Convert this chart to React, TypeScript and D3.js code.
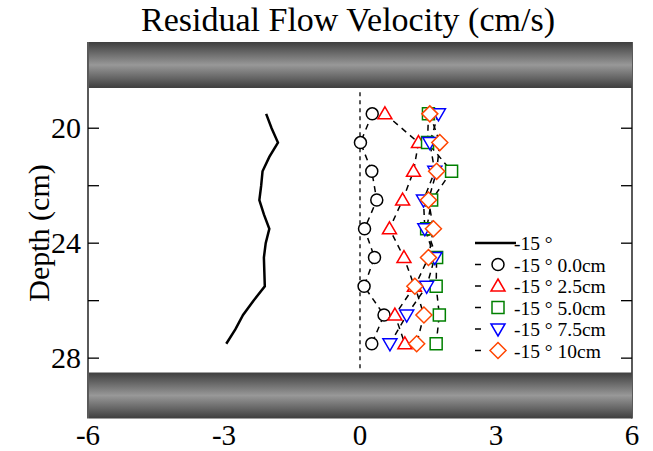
import React from "react";
import * as d3 from "d3";

// depth (cm) for the marker series
const depths = [19.5, 20.5, 21.5, 22.5, 23.5, 24.5, 25.5, 26.5, 27.5];

// solid -15° profile
const profileDepth = [19.5, 20.0, 20.5, 21.0, 21.5, 22.0, 22.5, 23.0, 23.5, 24.0, 24.5, 25.0, 25.5, 26.0, 26.5, 27.0, 27.5];
const profileVel = [-2.07, -1.95, -1.81, -2.0, -2.15, -2.18, -2.22, -2.12, -2.0, -2.08, -2.12, -2.11, -2.1, -2.35, -2.58, -2.75, -2.95];

const vel00 = [0.27, 0.01, 0.26, 0.37, 0.1, 0.32, 0.09, 0.53, 0.26];
const vel25 = [0.55, 1.29, 1.18, 0.94, 0.65, 0.97, 1.2, 0.77, 0.99];
const vel50 = [1.51, 1.49, 2.02, 1.58, 1.47, 1.69, 1.68, 1.75, 1.68];
const vel75 = [1.73, 1.54, 1.65, 1.4, 1.43, 1.65, 1.47, 1.03, 0.66];
const vel10 = [1.54, 1.76, 1.69, 1.51, 1.62, 1.51, 1.21, 1.41, 1.25];

const xTicks = [-6, -3, 0, 3, 6];
const yTicks = [20, 22, 24, 26, 28];
const yLabels = [20, 24, 28];

const series = [
  { name: "-15 ° 0.0cm", vals: vel00, shape: "circle", color: "#000000" },
  { name: "-15 ° 2.5cm", vals: vel25, shape: "triangle", color: "#ff0000" },
  { name: "-15 ° 5.0cm", vals: vel50, shape: "square", color: "#008000" },
  { name: "-15 ° 7.5cm", vals: vel75, shape: "invtriangle", color: "#0000ff" },
  { name: "-15 ° 10cm", vals: vel10, shape: "diamond", color: "#ff4500" },
];

const font = "'Liberation Serif', 'Times New Roman', serif";

function marker(shape: string, x: number, y: number) {
  switch (shape) {
    case "circle":
      return `M${x - 6},${y}a6,6 0 1,0 12,0a6,6 0 1,0 -12,0Z`;
    case "triangle":
      return `M${x},${y - 7}L${x + 7},${y + 5}L${x - 7},${y + 5}Z`;
    case "invtriangle":
      return `M${x},${y + 7}L${x + 7},${y - 5}L${x - 7},${y - 5}Z`;
    case "square":
      return `M${x - 6},${y - 6}h12v12h-12Z`;
    default:
      return `M${x},${y - 8}L${x + 8},${y}L${x},${y + 8}L${x - 8},${y}Z`;
  }
}

export default function App() {
  const W = 653;
  const H = 451;
  const x = d3.scaleLinear().domain([-6, 6]).range([88, 632]);
  const y = d3.scaleLinear().domain([17, 30.1]).range([42, 418.5]);

  const profile = d3
    .line<number>()
    .x((d) => x(d))
    .y((_, i) => y(profileDepth[i]))(profileVel);

  const legendY = (i: number) => 243 + i * 21.5;

  return (
    <svg width={W} height={H} style={{ position: "absolute", left: 0, top: 0 }}>
      <defs>
        <linearGradient id="bar" x1="0" y1="0" x2="0" y2="1">
          <stop offset="0%" stopColor="#3e3e3e" />
          <stop offset="50%" stopColor="#989898" />
          <stop offset="100%" stopColor="#3e3e3e" />
        </linearGradient>
      </defs>
      <rect width={W} height={H} fill="#fff" />
      <text x={348} y={31} textAnchor="middle" fontFamily={font} fontSize={34}>
        Residual Flow Velocity (cm/s)
      </text>

      {/* frame */}
      <line x1={x(-6)} x2={x(-6)} y1={y(17)} y2={y(30.1)} stroke="#000" strokeWidth={1.3} />
      <line x1={x(6)} x2={x(6)} y1={y(17)} y2={y(30.1)} stroke="#000" strokeWidth={1.3} />
      {yTicks.map((t) => (
        <g key={t}>
          <line x1={x(-6)} x2={x(-6) + 11} y1={y(t)} y2={y(t)} stroke="#000" strokeWidth={1.3} />
          <line x1={x(6)} x2={x(6) - 11} y1={y(t)} y2={y(t)} stroke="#000" strokeWidth={1.3} />
        </g>
      ))}
      {yLabels.map((t) => (
        <text key={t} x={81} y={y(t) + 10} textAnchor="end" fontFamily={font} fontSize={30}>
          {t}
        </text>
      ))}
      {xTicks.map((t) => (
        <text key={t} x={x(t)} y={445} textAnchor="middle" fontFamily={font} fontSize={29}>
          {t}
        </text>
      ))}
      <text transform={`translate(49,233) rotate(-90)`} textAnchor="middle" fontFamily={font} fontSize={30}>
        Depth (cm)
      </text>

      {/* bars */}
      <rect x={x(-6) + 1} y={y(17)} width={x(6) - x(-6) - 1} height={y(18.6) - y(17)} fill="url(#bar)" />
      <rect x={x(-6) + 1} y={y(28.5)} width={x(6) - x(-6) - 1} height={y(30.1) - y(28.5)} fill="url(#bar)" />

      {/* zero line */}
      <line x1={x(0)} x2={x(0)} y1={y(18.75)} y2={y(28.4)} stroke="#000" strokeWidth={1.3} strokeDasharray="4,4" />

      {/* profile */}
      <path d={profile || ""} fill="none" stroke="#000" strokeWidth={2.5} />

      {/* dashed series lines */}
      {series.map((s) => (
        <path
          key={s.name + "l"}
          d={d3.line<number>().x((d) => x(d)).y((_, i) => y(depths[i]))(s.vals) || ""}
          fill="none"
          stroke="#000"
          strokeWidth={1.5}
          strokeDasharray="6,5"
        />
      ))}
      {series.map((s) => (
        <g key={s.name + "m"}>
          {s.vals.map((v, i) => (
            <path key={i} d={marker(s.shape, x(v), y(depths[i]))} fill="#fff" stroke={s.color} strokeWidth={1.5} />
          ))}
        </g>
      ))}

      {/* legend */}
      <line x1={475} x2={516} y1={legendY(0)} y2={legendY(0)} stroke="#000" strokeWidth={2.5} />
      <text x={514} y={legendY(0) + 7} fontFamily={font} fontSize={19.5}>
        -15 °
      </text>
      {series.map((s, i) => {
        const ly = legendY(i + 1);
        return (
          <g key={s.name + "g"}>
            <line x1={475} x2={481} y1={ly} y2={ly} stroke="#000" strokeWidth={1.5} />
            <path d={marker(s.shape, 498, ly)} fill="#fff" stroke={s.color} strokeWidth={1.5} />
            <text x={514} y={ly + 7} fontFamily={font} fontSize={19.5}>
              {s.name}
            </text>
          </g>
        );
      })}
    </svg>
  );
}
